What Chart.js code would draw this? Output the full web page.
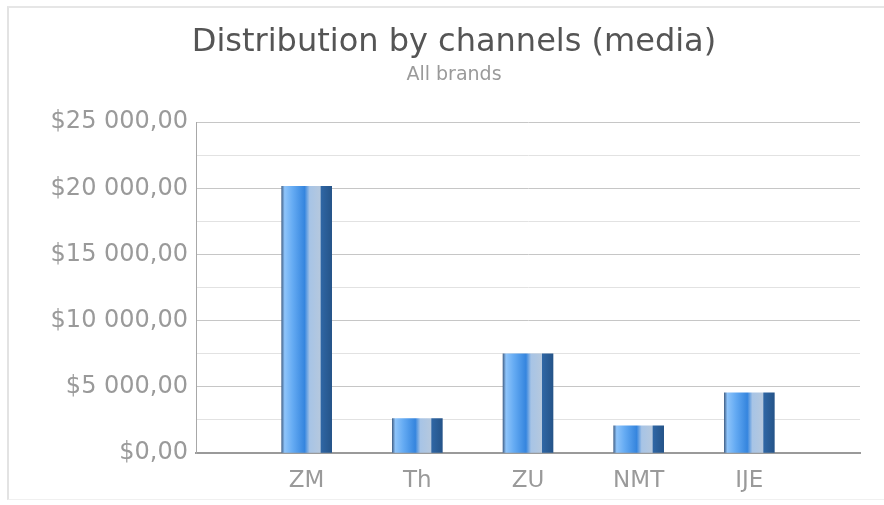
<!DOCTYPE html>
<html>
<head>
<meta charset="utf-8">
<script src="https://cdn.jsdelivr.net/npm/chart.js@4/dist/chart.umd.min.js"></script>
<style>
  body { margin: 0; background: #fff; }
  #wrap { position: relative; width: 884px; height: 505px; overflow: hidden; }
  #frame {
    position: absolute; left: 7px; top: 6px; width: 900px; bottom: 5px;
    border-left: 2px solid #e3e3e3; border-top: 2px solid #e6e6e6; border-bottom: 1px solid #f0f0f0;
  }
  #chart { position: absolute; left: 0; top: 0; }
</style>
</head>
<body>
<div id="wrap">
  <div id="frame"></div>
  <canvas id="chart" width="884" height="505"></canvas>
</div>
<script>
const channels = ["ZM", "Th", "ZU", "NMT", "IJE"];
const spend = [20150, 2600, 7500, 2050, 4550];
const yMax = 25000;
const yStep = 2500;
const majorStep = 5000;

// empty slot on each side so the bars sit one step in from the axis ends
const labels = ["", ...channels, ""];
const values = [null, ...spend, null];

const BAR_W = 50;

function money(v) {
  const whole = Math.round(v).toString().replace(/\B(?=(\d{3})+(?!\d))/g, " ");
  return `$${whole},00`;
}

function barFill(context) {
  const chart = context.chart;
  if (!chart.chartArea || !chart.scales.x) {
    return "#4a95e8";
  }
  const cx = chart.scales.x.getPixelForValue(context.dataIndex);
  const left = cx - BAR_W / 2;
  const g = chart.ctx.createLinearGradient(left, 0, left + BAR_W, 0);
  g.addColorStop(0, "#47678f");
  g.addColorStop(0.06, "#8ec4fa");
  g.addColorStop(0.22, "#65abf3");
  g.addColorStop(0.46, "#3585de");
  g.addColorStop(0.56, "#a7c4e6");
  g.addColorStop(0.77, "#b5c8de");
  g.addColorStop(0.79, "#2f66a4");
  g.addColorStop(1, "#255489");
  return g;
}

new Chart(document.querySelector("#chart"), {
  type: "bar",
  data: {
    labels,
    datasets: [
      {
        data: values,
        backgroundColor: barFill,
        borderWidth: 0,
        barThickness: BAR_W
      }
    ]
  },
  options: {
    responsive: false,
    animation: false,
    // left/right padding also moves the title centre to match the original
    layout: { padding: { left: 48, right: 24, top: 0, bottom: 0 } },
    plugins: {
      legend: { display: false },
      tooltip: { enabled: false },
      title: {
        display: true,
        text: "Distribution by channels (media)",
        color: "#555",
        font: { family: "DejaVu Sans", size: 32, weight: "normal", lineHeight: 1.2 },
        padding: { top: 23, bottom: 0 }
      },
      subtitle: {
        display: true,
        text: "All brands",
        color: "#9a9a9a",
        font: { family: "DejaVu Sans", size: 19, weight: "normal", lineHeight: 1.2 },
        padding: { top: 2, bottom: 36 }
      }
    },
    scales: {
      x: {
        offset: false,
        grid: { display: false },
        border: { display: true, color: "#9a9a9a", width: 2 },
        ticks: {
          color: "#9a9a9a",
          padding: 6,
          autoSkip: false,
          maxRotation: 0,
          font: { family: "DejaVu Sans", size: 23 }
        },
        afterFit: (scale) => { scale.height = 52; }
      },
      y: {
        min: 0,
        max: yMax,
        grid: {
          drawTicks: false,
          color: (c) => (c.tick.value % majorStep === 0 ? "#c6c6c6" : "#e2e2e2"),
          lineWidth: 1
        },
        border: { display: true, color: "#a8a8a8", width: 1 },
        ticks: {
          stepSize: yStep,
          autoSkip: false,
          padding: 8,
          color: "#9a9a9a",
          font: { family: "DejaVu Sans", size: 24 },
          callback: (v) => (v % majorStep === 0 ? money(v) : "")
        },
        afterFit: (scale) => { scale.width = 148; }
      }
    }
  }
});
</script>
</body>
</html>
